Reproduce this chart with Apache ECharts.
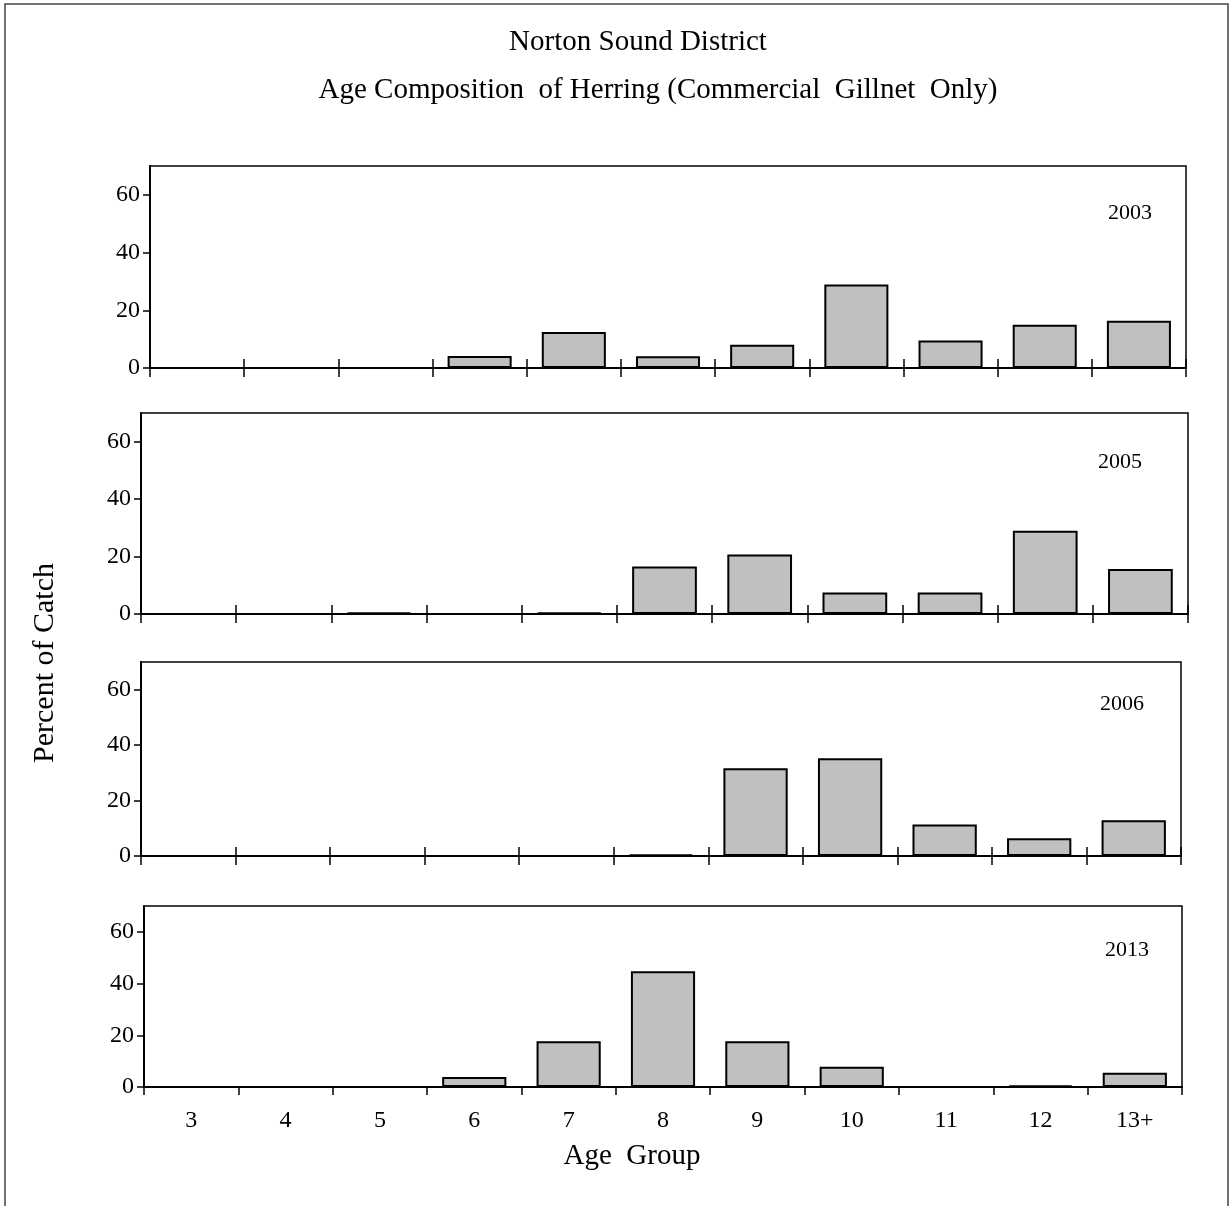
<!DOCTYPE html>
<html>
<head>
<meta charset="utf-8">
<title>Norton Sound District - Age Composition of Herring</title>
<script src="https://cdn.jsdelivr.net/npm/echarts@6/dist/echarts.min.js"></script>
<style>
  html, body { margin: 0; padding: 0; background: #fff; }
  #chart { width: 1231px; height: 1206px; }
</style>
</head>
<body>
<div id="chart"></div>
<script>
// Age groups (x axis)
const ages = ["3", "4", "5", "6", "7", "8", "9", "10", "11", "12", "13+"]

// Percent of catch by year
const pct2003 = [0, 0, 0, 4.2, 12.5, 4.1, 8.1, 28.9, 9.5, 15.0, 16.4]
const pct2005 = [0, 0, 0.6, 0, 0.5, 16.5, 20.7, 7.5, 7.5, 29.0, 15.7]
const pct2006 = [0, 0, 0, 0, 0, 0.6, 31.7, 35.3, 11.4, 6.4, 12.9]
const pct2013 = [0, 0, 0, 3.9, 17.7, 44.8, 17.7, 7.8, 0, 0.6, 5.5]

const years = ["2003", "2005", "2006", "2013"]
const yearData = [pct2003, pct2005, pct2006, pct2013]
const yTicks = [0, 20, 40, 60]

const FONT = "Liberation Serif"

// panel boxes (px)
const panels = [
  { left: 150, top: 166, width: 1036, height: 202, yearX: 1130, yearY: 213 },
  { left: 141, top: 413, width: 1047, height: 201, yearX: 1120, yearY: 462 },
  { left: 141, top: 662, width: 1040, height: 194, yearX: 1122, yearY: 704 },
  { left: 144, top: 906, width: 1038, height: 181, yearX: 1127, yearY: 950 },
]

const chart = echarts.init(document.getElementById("chart"))

const grid = []
const xAxis = []
const yAxis = []
const series = []
const graphic = []

panels.forEach((p, i) => {
  const last = i === panels.length - 1
  grid.push({
    left: p.left, top: p.top, width: p.width, height: p.height,
    show: true, borderColor: "#000", borderWidth: 1.5, backgroundColor: "transparent",
  })

  // main x axis (downward ticks, labels only on bottom panel)
  xAxis.push({
    type: "category",
    gridIndex: i,
    data: ages,
    position: "bottom",
    boundaryGap: true,
    axisLine: { lineStyle: { color: "#000", width: 2 } },
    axisTick: { show: true, length: last ? 8 : 9, lineStyle: { color: "#000", width: 1.5 } },
    axisLabel: {
      show: last, color: "#000", fontFamily: FONT, fontSize: 24, margin: 22,
    },
  })

  yAxis.push({
    type: "value",
    gridIndex: i,
    min: 0,
    max: 70,
    interval: 20,
    splitLine: { show: false },
    axisLine: { show: true, lineStyle: { color: "#000", width: 2 } },
    axisTick: { show: true, length: 7, customValues: yTicks, lineStyle: { color: "#000", width: 1.5 } },
    axisLabel: { color: "#000", fontFamily: FONT, fontSize: 24, margin: 10, customValues: yTicks },
  })

  series.push({
    type: "bar",
    xAxisIndex: i,
    yAxisIndex: i,
    data: yearData[i],
    barCategoryGap: "32%",
    itemStyle: { color: "#c0c0c0", borderColor: "#000", borderWidth: 2 },
    silent: true,
  })

  graphic.push({
    type: "text",
    x: p.yearX,
    y: p.yearY,
    style: {
      text: years[i], fontFamily: FONT, fontSize: 22, fill: "#000",
      textAlign: "center", textVerticalAlign: "middle",
    },
  })
})

// extra axes that draw the upward half of the crossing ticks (top three panels)
panels.slice(0, 3).forEach((p, i) => {
  xAxis.push({
    type: "category",
    gridIndex: i,
    data: ages,
    position: "top",
    offset: -p.height,
    axisLine: { show: false, onZero: false },
    axisTick: { show: true, length: 9, lineStyle: { color: "#000", width: 1.5 } },
    axisLabel: { show: false },
  })
})

// titles and axis names
graphic.push(
  {
    type: "text", x: 638, y: 42,
    style: { text: "Norton Sound District", fontFamily: FONT, fontSize: 29, fill: "#000", textAlign: "center", textVerticalAlign: "middle" },
  },
  {
    type: "text", x: 658, y: 90,
    style: { text: "Age Composition  of Herring (Commercial  Gillnet  Only)", fontFamily: FONT, fontSize: 29, fill: "#000", textAlign: "center", textVerticalAlign: "middle" },
  },
  {
    type: "text", x: 45, y: 663, rotation: Math.PI / 2,
    style: { text: "Percent of Catch", fontFamily: FONT, fontSize: 30, fill: "#000", textAlign: "center", textVerticalAlign: "middle" },
  },
  {
    type: "text", x: 632, y: 1156,
    style: { text: "Age  Group", fontFamily: FONT, fontSize: 29, fill: "#000", textAlign: "center", textVerticalAlign: "middle" },
  },
  // outer frame
  {
    type: "rect",
    shape: { x: 5, y: 4, width: 1223, height: 1215 },
    style: { fill: "none", stroke: "#444", lineWidth: 1.5 },
    silent: true,
  }
)

chart.setOption({
  animation: false,
  backgroundColor: "#fff",
  grid: grid,
  xAxis: xAxis,
  yAxis: yAxis,
  series: series,
  graphic: graphic,
})

window.addEventListener("resize", () => chart.resize())
</script>
</body>
</html>
